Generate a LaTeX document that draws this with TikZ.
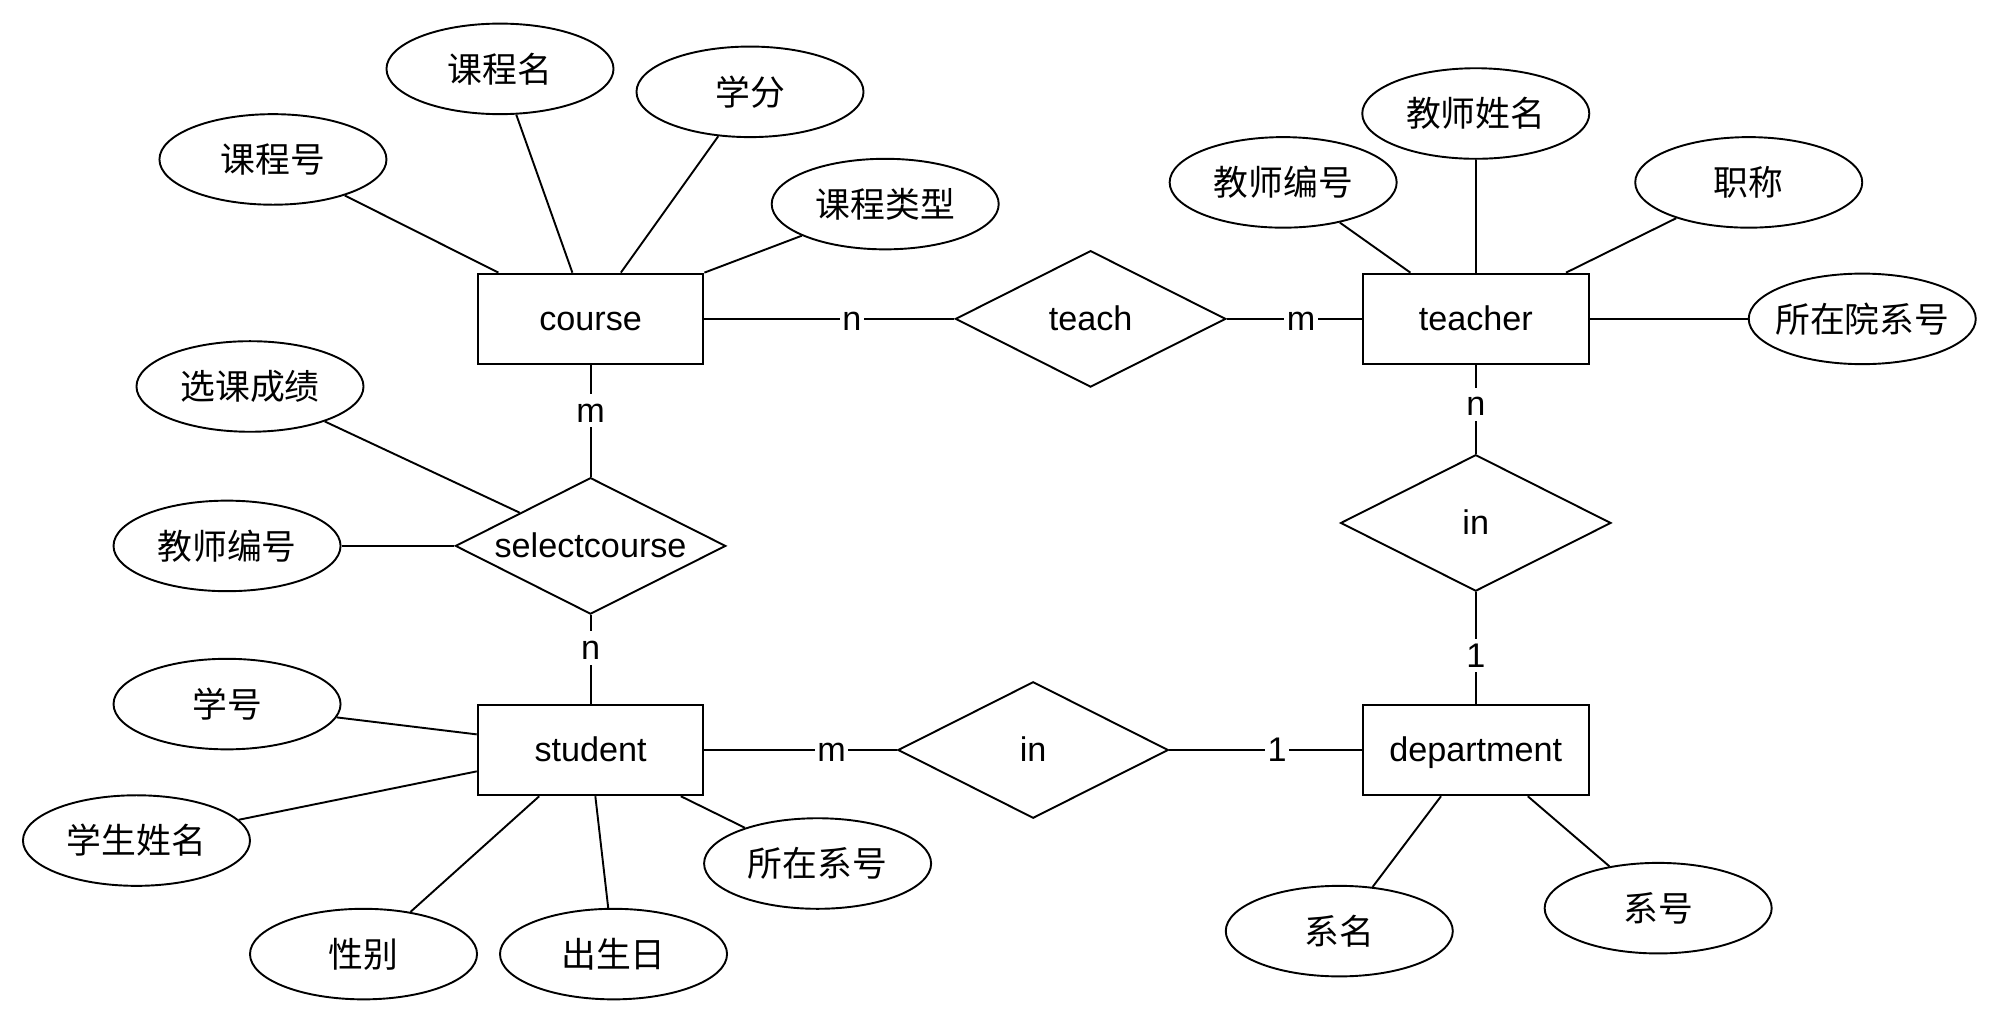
\documentclass[tikz,border=0pt]{standalone}
\usepackage{fontspec}
\setmainfont{Liberation Sans}
\newfontfamily\cjk{Noto Sans CJK SC}
\usetikzlibrary{shapes.geometric,calc}
\begin{document}
\begin{tikzpicture}[x=1pt,y=-1pt,line width=1.5pt,
  every node/.style={font=\fontsize{26.8}{32}\selectfont},
  latin/.style={text height=20pt,text depth=2pt},
  entity/.style={draw,rectangle,minimum width=177pt,minimum height=71pt,inner sep=0pt,latin},
  rel/.style={draw,diamond,shape aspect=2,minimum width=212pt,minimum height=107pt,inner sep=0pt,latin},
  attr/.style={draw,ellipse,minimum width=178pt,minimum height=71pt,inner ysep=0pt,inner xsep=-20pt,font=\fontsize{27.3}{32}\selectfont\cjk},
  card/.style={fill=white,inner sep=2pt,latin}]
\useasboundingbox (0,0) rectangle (1568,802);
% entities
\node[entity] (course) at (463,250) {course};
\node[entity] (teacher) at (1157,250) {teacher};
\node[entity] (student) at (463,588) {student};
\node[entity] (dept) at (1157,588) {department};
% relationships
\node[rel] (teach) at (855,250) {teach};
\node[rel] (sc) at (463,428) {selectcourse};
\node[rel] (inr) at (1157,410) {in};
\node[rel] (inb) at (810,588) {in};
% attributes
\node[attr] (kcm) at (392,54) {课程名};
\node[attr] (xf) at (588,72) {学分};
\node[attr] (kch) at (214,125) {课程号};
\node[attr] (kclx) at (694,160) {课程类型};
\node[attr] (jsxm) at (1157,89) {教师姓名};
\node[attr] (jsbh) at (1006,143) {教师编号};
\node[attr] (zc) at (1371,143) {职称};
\node[attr] (szyxh) at (1460,250) {所在院系号};
\node[attr] (xkcj) at (196,303) {选课成绩};
\node[attr] (jsbh2) at (178,428) {教师编号};
\node[attr] (xh) at (178,552) {学号};
\node[attr] (xsxm) at (107,659) {学生姓名};
\node[attr] (xb) at (285,748) {性别};
\node[attr] (csr) at (481,748) {出生日};
\node[attr] (szxh) at (641,677) {所在系号};
\node[attr] (xm) at (1050,730) {系名};
\node[attr] (xih) at (1300,712) {系号};
% attribute lines
\draw (kch) -- ([xshift=17pt]course.north west);
\draw (kcm) -- ([xshift=75pt]course.north west);
\draw (xf) -- ([xshift=113pt]course.north west);
\draw (kclx) -- (course.north east);
\draw (jsbh) -- ([xshift=38pt]teacher.north west);
\draw (jsxm) -- (teacher.north);
\draw (zc) -- ([xshift=160pt]teacher.north west);
\draw (szyxh) -- (teacher.east);
\draw (xkcj) -- ($(sc.west)!0.48!(sc.north)$);
\draw (jsbh2) -- (sc.west);
\draw (xh) -- ([yshift=-24pt]student.north west);
\draw (xsxm) -- ([yshift=-53pt]student.north west);
\draw (xb) -- ([xshift=49pt]student.south west);
\draw (csr) -- ([xshift=93pt]student.south west);
\draw (szxh) -- ([xshift=160pt]student.south west);
\draw (xm) -- ([xshift=62pt]dept.south west);
\draw (xih) -- ([xshift=130pt]dept.south west);
% relationship lines
\draw (course.east) -- node[card,pos=0.59] {n} (teach.west);
\draw (teach.east) -- node[card,pos=0.55] {m} (teacher.west);
\draw (course.south) -- node[card,pos=0.41] {m} (sc.north);
\draw (sc.south) -- node[card,pos=0.37] {n} (student.north);
\draw (teacher.south) -- node[card,pos=0.44] {n} (inr.north);
\draw (inr.south) -- node[card,pos=0.57] {1} (dept.north);
\draw (student.east) -- node[card,pos=0.66] {m} (inb.west);
\draw (inb.east) -- node[card,pos=0.56] {1} (dept.west);
\end{tikzpicture}
\end{document}
